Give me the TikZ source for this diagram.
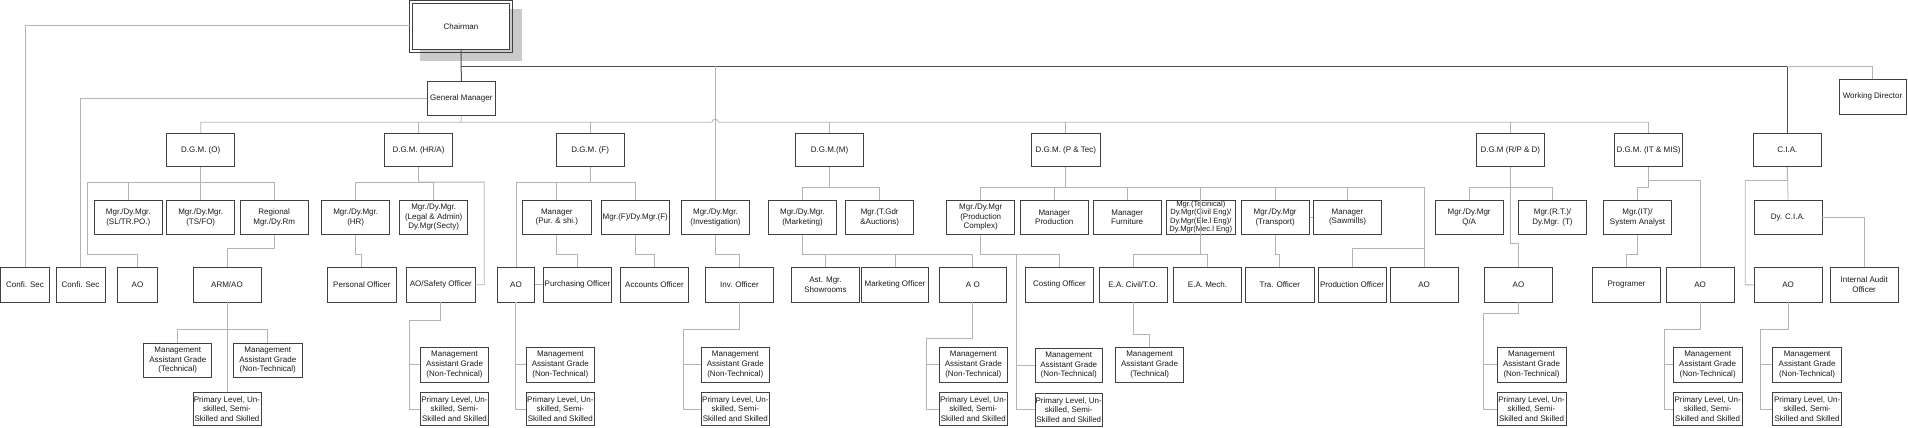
\documentclass[tikz,border=0pt]{standalone}
\usepackage{fontspec}
\setmainfont{Liberation Sans}
\usetikzlibrary{calc}
\definecolor{boxc}{HTML}{404040}
\definecolor{lc}{HTML}{B4B4B4}
\definecolor{dc}{HTML}{505050}
\definecolor{shc}{HTML}{CACACA}
\definecolor{txc}{HTML}{1A1A1A}
\newcommand\bx[6]{\node[box,minimum width={(#4)-(#2)},minimum height={(#5)-(#3)}] (#1) at ({((#2)+(#4))/2},{((#3)+(#5))/2}) {#6};}
\newcommand\lowtree[5]{%
  \draw[conn] (#1.south) -- ++(0,#4) -| ($(#3.west)+(-#5,0)$) -- (#3.west);
  \draw[conn] (#2.west) -- ++(-#5,0);}
\begin{document}
\begin{tikzpicture}[x=1pt,y=-1pt,
  box/.style={draw=boxc,line width=0.8pt,fill=white,align=center,inner sep=0.5pt,text=txc,font=\fontsize{8}{9.6}\selectfont},
  conn/.style={draw=lc,line width=0.8pt},
  dconn/.style={draw=dc,line width=1pt}]
\useasboundingbox[fill=white] (0,0) rectangle (1908,428);
% ---------- top level
\fill[shc] (419.5,9.3) rectangle (521.7,61);
\node[box,minimum width=97,minimum height=46] (ch) at (461,26.5) {Chairman};
\draw[boxc,line width=0.8pt] ([shift={(-2.5,-2.5)}]ch.north west) rectangle ([shift={(2.5,2.5)}]ch.south east);
\bx{gm}{427}{81.3}{495.7}{115.7}{General Manager}
\bx{wd}{1839}{79.3}{1906}{114.3}{Working Director}
% ---------- DGM row
\bx{dgmO}{166.7}{133.3}{234.7}{166.7}{D.G.M. (O)}
\bx{dgmH}{384.3}{133.3}{452.7}{166.7}{D.G.M. (HR/A)}
\bx{dgmF}{556}{133.3}{624.3}{166.7}{D.G.M. (F)}
\bx{dgmM}{795.7}{133.3}{863.3}{166.7}{D.G.M.(M)}
\bx{dgmP}{1031.7}{133.3}{1100}{166.7}{D.G.M. (P \& Tec)}
\bx{dgmR}{1476.3}{133.3}{1544.3}{166.7}{D.G.M (R/P \& D)}
\bx{dgmI}{1614.3}{133.3}{1682.7}{166.7}{D.G.M. (IT \& MIS)}
\bx{cia}{1753}{133.3}{1821.7}{166.7}{C.I.A.}
% ---------- manager row
\bx{sl}{94.3}{200}{162.3}{234.3}{Mgr./Dy.Mgr.\\(SL/TR.PO.)}
\bx{ts}{166.7}{200}{234.7}{234.3}{Mgr./Dy.Mgr.\\(TS/FO)}
\bx{reg}{240}{200}{308.3}{234.3}{Regional\\Mgr./Dy.Rm}
\bx{hr}{321.7}{200}{389.7}{234.3}{Mgr./Dy.Mgr.\\(HR)}
\bx{legal}{399.7}{200}{467.7}{234.3}{Mgr./Dy.Mgr.\\(Legal \& Admin)\\Dy.Mgr(Secty)}
\bx{pur}{522.7}{200}{591}{234.3}{Manager\\(Pur. \& shi.)}
\bx{mf}{601.3}{200}{669.3}{234.3}{Mgr.(F)/Dy.Mgr.(F)}
\bx{inv}{681.3}{200}{749.7}{234.3}{Mgr./Dy.Mgr.\\(Investigation)}
\bx{mkt}{768.3}{200}{836.7}{234.3}{Mgr./Dy.Mgr.\\(Marketing)}
\bx{tgdr}{845.7}{200}{913.7}{234.3}{Mgr.(T.Gdr\\\&Auctions)}
\bx{pc}{946.7}{200}{1014.7}{234.3}{Mgr./Dy.Mgr\\(Production\\Complex)}
\bx{mprod}{1020.3}{200}{1088.3}{234.3}{Manager\\Production}
\bx{mfurn}{1093}{200}{1161.3}{234.3}{Manager\\Furniture}
\bx{tech}{1166.7}{200}{1235}{234.3}{}
\node[inner sep=0pt,align=center,text=txc,font=\fontsize{7.6}{8.4}\selectfont] (techtxt) at (1200.8,217.2) {Mgr.(Tecinical)\\Dy.Mgr(Civil Eng)/\\Dy.Mgr(Ele.l Eng)/\\Dy.Mgr(Mec.l Eng)};
\bx{trans}{1241}{200}{1309.3}{234.3}{Mgr./Dy.Mgr\\(Transport)}
\bx{saw}{1313.3}{200}{1381.7}{234.3}{Manager\\(Sawmills)}
\bx{qa}{1435}{200}{1503.3}{234.3}{Mgr./Dy.Mgr\\Q/A}
\bx{rt}{1518.3}{200}{1586.7}{234.3}{Mgr.(R.T.)/\\Dy.Mgr. (T)}
\bx{itm}{1603.3}{200}{1671.7}{234.3}{Mgr.(IT)/\\System Analyst}
\bx{dycia}{1754}{200}{1822}{234.3}{Dy. C.I.A.}
% ---------- officer row
\bx{cs1}{0.6}{267.7}{49.4}{302}{Confi. Sec}
\bx{cs2}{56}{267.7}{105}{302}{Confi. Sec}
\bx{aoO}{117.3}{267.7}{157.7}{302}{AO}
\bx{arm}{193}{267.7}{261}{302}{ARM/AO}
\bx{po}{327.7}{267.7}{396}{302}{Personal Officer}
\bx{aos}{406.7}{267.7}{475}{302}{AO/Safety Officer}
\bx{aoF}{497.7}{267.7}{534.3}{302}{AO}
\bx{purO}{543.3}{267.7}{611.7}{302}{Purchasing Officer}
\bx{acc}{620.3}{267.7}{688.7}{302}{Accounts Officer}
\bx{invO}{705.3}{267.7}{773.7}{302}{Inv. Officer}
\bx{ast}{791.7}{267.7}{859.3}{302}{Ast. Mgr.\\Showrooms}
\bx{mko}{861.7}{267.7}{928.3}{302}{Marketing Officer}
\bx{aoM}{939}{267.7}{1006.7}{302}{A O}
\bx{cost}{1025.7}{267.7}{1093.3}{302}{Costing Officer}
\bx{eac}{1099}{267.7}{1167.3}{302}{E.A. Civil/T.O.}
\bx{eam}{1173.3}{267.7}{1241.7}{302}{E.A. Mech.}
\bx{tra}{1245.7}{267.7}{1314}{302}{Tra. Officer}
\bx{proO}{1318}{267.7}{1386}{302}{Production Officer}
\bx{aoP}{1390}{267.7}{1458.3}{302}{AO}
\bx{aoR}{1484.3}{267.7}{1552.7}{302}{AO}
\bx{prog}{1592.3}{267.7}{1660.7}{302}{Programer}
\bx{aoI}{1666}{267.7}{1734.3}{302}{AO}
\bx{aoC}{1754}{267.7}{1822.3}{302}{AO}
\bx{iao}{1830}{267.7}{1898.3}{302}{Internal Audit\\Officer}
% ---------- assistant rows
\def\mgn{Management\\Assistant Grade\\(Non-Technical)}
\def\mgt{Management\\Assistant Grade\\(Technical)}
\def\prl{Primary Level, Un-\\skilled, Semi-\\Skilled and Skilled}
\bx{mgT}{143.7}{343.3}{211.8}{377.3}{\mgt}
\bx{mgN}{233.5}{343.3}{302}{377.3}{\mgn}
\bx{prA}{193}{392.3}{261}{425.7}{\prl}
\bx{mgS}{420.4}{347.3}{488.6}{382}{\mgn}
\bx{prS}{420.4}{392.3}{488.6}{425.7}{\prl}
\bx{mgF}{526}{347.3}{594.7}{382}{\mgn}
\bx{prF}{526}{392.3}{594.7}{425.7}{\prl}
\bx{mgV}{701.2}{347.3}{769.4}{382}{\mgn}
\bx{prV}{701.2}{392.3}{769.4}{425.7}{\prl}
\bx{mgM}{939.6}{347.3}{1006.9}{382}{\mgn}
\bx{prM}{939.6}{392.3}{1006.9}{425.7}{\prl}
\bx{mgC}{1035}{348}{1102.4}{382.7}{\mgn}
\bx{prC}{1035}{393}{1102.4}{426.7}{\prl}
\bx{mgE}{1115.5}{347.3}{1183.7}{382}{\mgt}
\bx{mgR}{1497}{347.3}{1566}{382}{\mgn}
\bx{prR}{1497}{392.3}{1566}{425.7}{\prl}
\bx{mgI}{1673.3}{347.3}{1742}{382}{\mgn}
\bx{prI}{1673.3}{392.3}{1742}{425.7}{\prl}
\bx{mgA}{1772.6}{347.3}{1841.6}{382}{\mgn}
\bx{prA2}{1772.6}{392.3}{1841.6}{425.7}{\prl}
% ---------- connectors: chairman
\coordinate (j1) at (461,66.3);
\draw[dconn] (ch.south) -- (gm.north);
\draw[dconn] (j1) -| (cia.north);
\draw[conn] (cia.north |- j1) -| (wd.north);
\draw[conn] ([xshift=-2.5pt,yshift=1.5pt]ch.west) -| (cs1.north);
\draw[conn] (inv.north |- j1) -- (inv.north);
% ---------- general manager
\coordinate (gb) at (461,122.3);
\draw[conn] (gm.west) -| (cs2.north);
\draw[conn] (gm.south) -- (gb);
\draw[conn] (dgmO.north) |- (711.8,122.3) .. controls (711.8,118.3) and (718.6,118.3) .. (718.6,122.3) -- (dgmI.north |- gb) -- (dgmI.north);
\foreach \n in {dgmH,dgmF,dgmM,dgmP,dgmR} \draw[conn] (\n.north |- gb) -- (\n.north);
% ---------- DGM (O)
\draw[conn] (dgmO.south) -- ++(0,15) -| (sl.north);
\draw[conn] (dgmO.south) -- (ts.north);
\draw[conn] (dgmO.south) -- ++(0,15) -| (reg.north);
\draw[conn] (dgmO.south) -- ++(0,15) -| (87.7,254.3) -| (aoO.north);
\draw[conn] (reg.south) -- ++(0,13.4) -| (arm.north);
% ---------- DGM (HR/A)
\draw[conn] (dgmH.south) -- ++(0,15) -| (hr.north);
\draw[conn] (dgmH.south) -- ++(0,15) -| (legal.north);
\draw[conn] (dgmH.south) -- ++(0,15) -| (484.3,284.8) -- (aos.east);
\draw[conn] (hr.south) -- ++(0,20) -| (po.north);
% ---------- DGM (F)
\draw[conn] (dgmF.south) -- ++(0,15) -| (aoF.north);
\draw[conn] (dgmF.south) -- ++(0,15) -| (pur.north);
\draw[conn] (dgmF.south) -- ++(0,15) -| (mf.north);
\draw[conn] (pur.south) -- ++(0,20) -| (purO.north);
\draw[conn] (mf.south) -- ++(0,20) -| (acc.north);
\draw[conn] (aoF.east) -- (purO.west);
\draw[conn] (inv.south) -- ++(0,20) -| (invO.north);
% ---------- DGM (M)
\draw[conn] (dgmM.south) -- ++(0,20.6) -| (mkt.north);
\draw[conn] (dgmM.south) -- ++(0,20.6) -| (tgdr.north);
\draw[conn] (mkt.south) -- ++(0,20) -| (ast.north);
\draw[conn] (mkt.south) -- ++(0,20) -| (mko.north);
\draw[conn] (mkt.south) -- ++(0,20) -| (aoM.north);
% ---------- DGM (P & Tec)
\foreach \n in {pc,mprod,mfurn,tech,trans,saw,aoP} \draw[conn] (dgmP.south) -- ++(0,20.6) -| (\n.north);
\draw[conn] (aoP.north |- 0,248.3) -| (proO.north);
\draw[conn] (tech.north) -- (tech.south) -- ++(0,20) -| (eac.north);
\draw[conn] (tech.south) -- ++(0,20) -| (eam.north);
\draw[conn] (pc.south) -- ++(0,20) -| (cost.north);
\draw[conn] (pc.south) |- (1016.7,254.3) |- (prC.west);
\draw[conn] (mgC.west) -| (1016.7,340);
\draw[conn] (trans.south) -- ++(0,20) -| (tra.north);
\draw[conn] (trans.east) -- (saw.west);
\draw[conn] (eac.south) -- ++(0,32.3) -| (mgE.north);
% ---------- DGM (R/P & D)
\draw[conn] (dgmR.south) -- ++(0,20.6) -| (qa.north);
\draw[conn] (dgmR.south) -- ++(0,20.6) -| (rt.north);
\draw[conn] (dgmR.south) -- ++(0,76.6) -| (aoR.north);
% ---------- DGM (IT & MIS)
\draw[conn] (dgmI.south) -- ++(0,13.3) -| (aoI.north);
\draw[conn] (dgmI.south) -- ++(0,20.6) -| (itm.north);
\draw[conn] (itm.south) -- ++(0,20) -| (prog.north);
% ---------- C.I.A.
\draw[conn] (cia.south) -- (dycia.north);
\draw[conn] (cia.south) -- ++(0,13.3) -| (1745.3,284.85) -- (aoC.west);
\draw[conn] (dycia.east) -| (iao.north);
% ---------- lower trees
\draw[conn] (arm.south) -- (prA.north);
\draw[conn] (arm.south) -- ++(0,27.3) -| (mgT.north);
\draw[conn] (arm.south) -- ++(0,27.3) -| (mgN.north);
\lowtree{aos}{mgS}{prS}{18}{10.2}
\lowtree{aoF}{mgF}{prF}{0.1}{10}
\lowtree{invO}{mgV}{prV}{27}{17.2}
\lowtree{aoM}{mgM}{prM}{36.3}{12.6}
\lowtree{aoR}{mgR}{prR}{11.3}{13}
\lowtree{aoI}{mgI}{prI}{27}{8.5}
\lowtree{aoC}{mgA}{prA2}{27}{11.9}
\end{tikzpicture}
\end{document}
